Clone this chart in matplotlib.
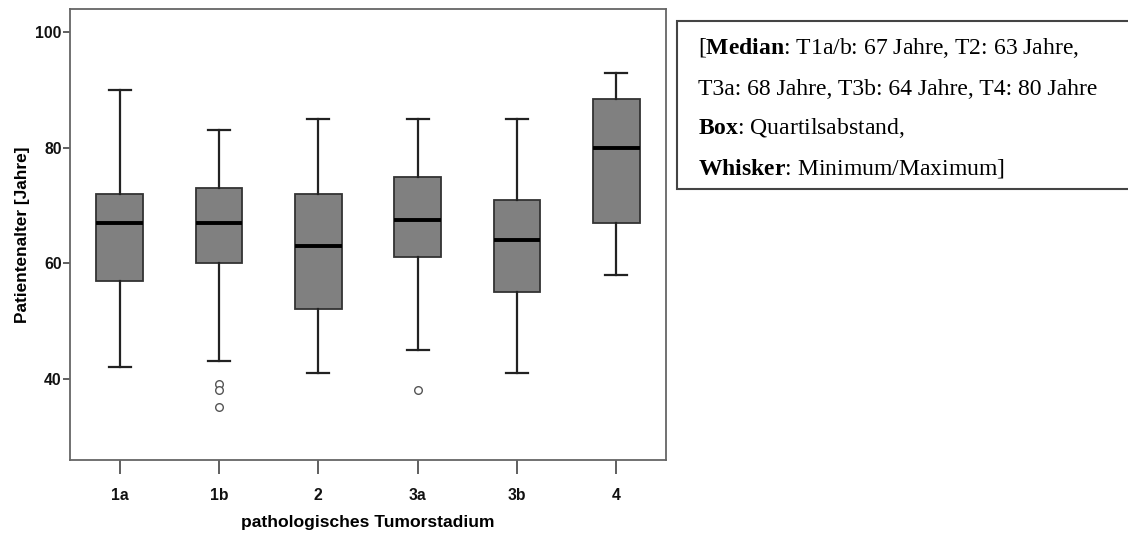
import matplotlib
matplotlib.use("Agg")
import matplotlib.pyplot as plt
from matplotlib.patches import Rectangle

categories = ["1a", "1b", "2", "3a", "3b", "4"]
whislo = [42, 43, 41, 45, 41, 58]
q1 = [57, 60, 52, 61, 55, 67]
med = [67, 67, 63, 67.5, 64, 80]
q3 = [72, 73, 72, 75, 71, 88.5]
whishi = [90, 83, 85, 85, 85, 93]
fliers = [[], [39, 38, 35], [], [38], [], []]
yticks = [40, 60, 80, 100]

note_lines = [
    r"[$\mathbf{Median}$: T1a/b: 67 Jahre, T2: 63 Jahre,",
    r"T3a: 68 Jahre, T3b: 64 Jahre, T4: 80 Jahre",
    r"$\mathbf{Box}$: Quartilsabstand,",
    r"$\mathbf{Whisker}$: Minimum/Maximum]",
]

plt.rcParams["mathtext.fontset"] = "custom"
plt.rcParams["mathtext.rm"] = "Liberation Serif"
plt.rcParams["mathtext.bf"] = "Liberation Serif:bold"

W, H = 1128, 534
fig = plt.figure(figsize=(W / 100, H / 100), dpi=100)
ax = fig.add_axes([70 / W, 1 - 460 / H, (666 - 70) / W, (460 - 9.3) / H])

stats = []
for i, c in enumerate(categories):
    stats.append(dict(label=c, whislo=whislo[i], q1=q1[i], med=med[i],
                      q3=q3[i], whishi=whishi[i], fliers=fliers[i]))

ax.bxp(stats, positions=range(1, len(categories) + 1), widths=0.47,
       patch_artist=True, showfliers=True,
       boxprops=dict(facecolor="#808080", edgecolor="#333333", linewidth=1.3),
       medianprops=dict(color="black", linewidth=2.8),
       whiskerprops=dict(color="#222222", linewidth=1.6),
       capprops=dict(color="#222222", linewidth=1.6),
       capwidths=0.22,
       flierprops=dict(marker="o", markerfacecolor="white",
                       markeredgecolor="#555555", markersize=5.5,
                       markeredgewidth=1.0, linestyle="none"))

ax.set_xlim(0.5, len(categories) + 0.5)
ax.set_ylim(25.9, 104)
ax.set_yticks(yticks)
ax.set_yticklabels([str(t) for t in yticks])
ax.set_xticks(range(1, len(categories) + 1))
ax.set_xticklabels(categories)

for lab in ax.get_xticklabels() + ax.get_yticklabels():
    lab.set_fontfamily("Liberation Sans")
    lab.set_fontweight("bold")
    lab.set_fontsize(11.3)
    lab.set_color("#111111")

ax.tick_params(axis="y", length=5, width=1.2, color="#444444", pad=1)
ax.tick_params(axis="x", length=10, width=1.2, color="#444444", pad=10)
for s in ax.spines.values():
    s.set_color("#666666")
    s.set_linewidth(1.3)

ax.set_xlabel("pathologisches Tumorstadium", fontfamily="Liberation Sans",
              fontweight="bold", fontsize=12.6, labelpad=9)
ax.set_ylabel("Patientenalter [Jahre]", fontfamily="Liberation Sans",
              fontweight="bold", fontsize=12.4, labelpad=4)

# note box
fig.patches.append(Rectangle((677 / W, 1 - 189.3 / H), (1140 - 677) / W,
                             (189.3 - 20.7) / H, transform=fig.transFigure,
                             facecolor="white", edgecolor="#444444",
                             linewidth=1.5, clip_on=True))
baselines = [54.5, 95.0, 134.5, 174.5]
for txt, yb in zip(note_lines, baselines):
    fig.text(698 / W, 1 - yb / H, txt, fontfamily="Liberation Serif",
             fontsize=17.0, ha="left", va="baseline", color="black")

fig.savefig("out.png", dpi=100)
